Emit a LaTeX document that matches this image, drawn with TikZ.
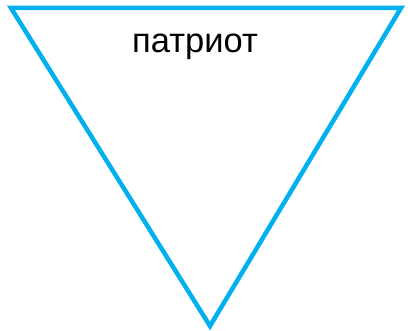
\documentclass[tikz,border=0pt]{standalone}
\usepackage{fontspec}
\setmainfont{Liberation Sans}
\definecolor{tri}{RGB}{0,176,240}
\begin{document}
\begin{tikzpicture}[x=1pt,y=-1pt,
  tribox/.style={draw=tri,line width=4.5pt,miter limit=10,line join=miter},
  lbl/.style={font=\fontsize{34.5}{40}\selectfont,anchor=base,inner sep=0pt}]
\useasboundingbox (0,0) rectangle (408,331);
\coordinate (a) at (11,8);
\coordinate (b) at (401,8);
\coordinate (c) at (210,326);
\draw[tribox] (a) -- (b) -- (c) -- cycle;
\node[lbl] (t) at (195,53) {патриот};
\end{tikzpicture}
\end{document}
